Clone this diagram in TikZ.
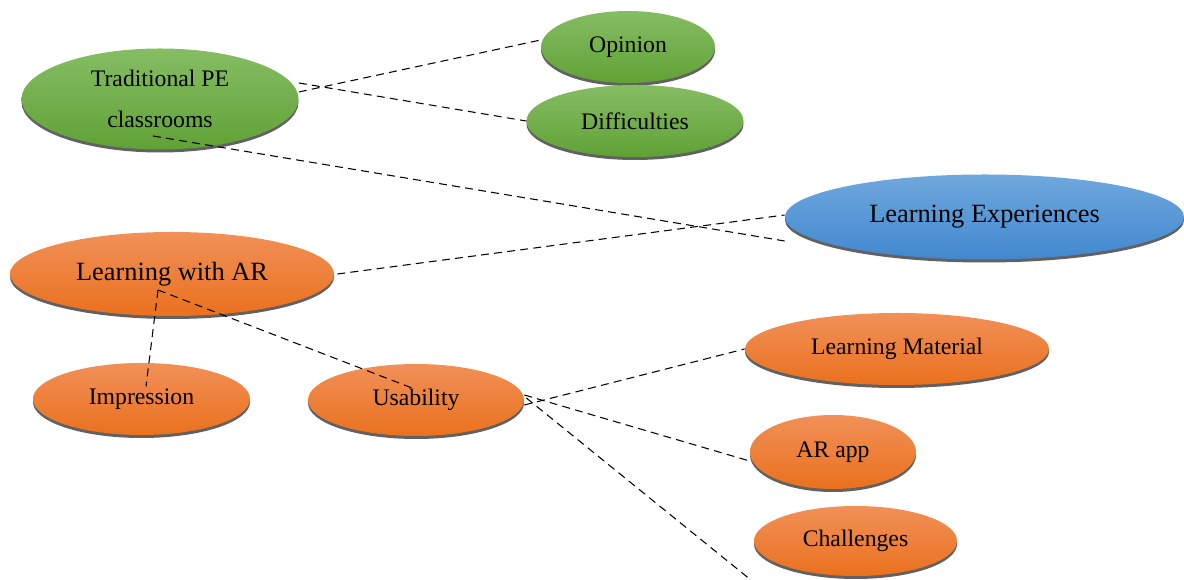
\documentclass[tikz,border=0pt]{standalone}
\usepackage{fontspec}
\setmainfont{Liberation Serif}
\usepackage{xcolor}
\usetikzlibrary{shapes.geometric,shadows}

\definecolor{greentop}{HTML}{86BD64}
\definecolor{greenbot}{HTML}{60A236}
\definecolor{orangetop}{HTML}{F19058}
\definecolor{orangebot}{HTML}{EA711E}
\definecolor{bluetop}{HTML}{6FA8DD}
\definecolor{bluebot}{HTML}{4288CF}

\begin{document}
\begin{tikzpicture}[
  topic/.style={ellipse, inner sep=0pt, align=center,
    font=\fontsize{13.5}{23}\selectfont,
    drop shadow={shadow xshift=0pt, shadow yshift=-0.06cm, fill=black!62, opacity=1}},
  greentopic/.style={topic, top color=greentop, bottom color=greenbot},
  orangetopic/.style={topic, top color=orangetop, bottom color=orangebot},
  bluetopic/.style={topic, top color=bluetop, bottom color=bluebot},
  link/.style={dash pattern=on 4.5pt off 3pt, line width=0.6pt}
]
  \useasboundingbox (0,0) rectangle (23.68,11.58);

  % upper branch
  \node[greentopic, minimum width=5.54cm, minimum height=2.02cm] (trad) at (3.20,9.60) {Traditional PE\\classrooms};
  \node[greentopic, minimum width=3.48cm, minimum height=1.44cm] (opinion) at (12.56,10.64) {Opinion};
  \node[greentopic, minimum width=4.34cm, minimum height=1.44cm] (difficulties) at (12.70,9.16) {Difficulties};

  % root
  \node[bluetopic, minimum width=7.98cm, minimum height=1.70cm, font=\fontsize{15}{18}\selectfont] (learnexp) at (19.69,7.24) {Learning Experiences};

  % lower branch
  \node[orangetopic, minimum width=6.48cm, minimum height=1.68cm, font=\fontsize{15}{18}\selectfont] (learnar) at (3.44,6.10) {Learning with AR};
  \node[orangetopic, minimum width=4.34cm, minimum height=1.44cm] (impression) at (2.83,3.60) {Impression};
  \node[orangetopic, minimum width=4.32cm, minimum height=1.44cm] (usability) at (8.32,3.58) {Usability};
  \node[orangetopic, minimum width=6.08cm, minimum height=1.44cm] (learnmat) at (17.94,4.60) {Learning Material};
  \node[orangetopic, minimum width=3.32cm, minimum height=1.48cm] (arapp) at (16.66,2.54) {AR app};
  \node[orangetopic, minimum width=4.06cm, minimum height=1.40cm] (challenges) at (17.11,0.76) {Challenges};

  % links
  \draw[link] ([yshift=0.14cm]trad.east) -- ([yshift=0.14cm]opinion.west);
  \draw[link] ([yshift=0.32cm]trad.east) -- (difficulties.west);
  \draw[link] ([xshift=-0.14cm,yshift=-0.74cm]trad.center) -- ([yshift=-0.48cm]learnexp.west);
  \draw[link] ([xshift=0.06cm]learnar.east) -- ([yshift=0.04cm]learnexp.west);
  \draw[link] ([xshift=-0.28cm,yshift=-0.32cm]learnar.center) -- ([xshift=0.09cm,yshift=0.25cm]impression.center);
  \draw[link] ([xshift=-0.28cm,yshift=-0.32cm]learnar.center) -- ([xshift=-0.08cm,yshift=0.24cm]usability.center);
  \draw[link] ([yshift=-0.10cm]usability.east) -- (learnmat.west);
  \draw[link] ([yshift=0.10cm]usability.east) -- ([yshift=-0.18cm]arapp.west);
  \draw[link] ([xshift=0.04cm,yshift=0.04cm]usability.east) -- ([xshift=-0.08cm,yshift=-0.76cm]challenges.west);
\end{tikzpicture}
\end{document}
